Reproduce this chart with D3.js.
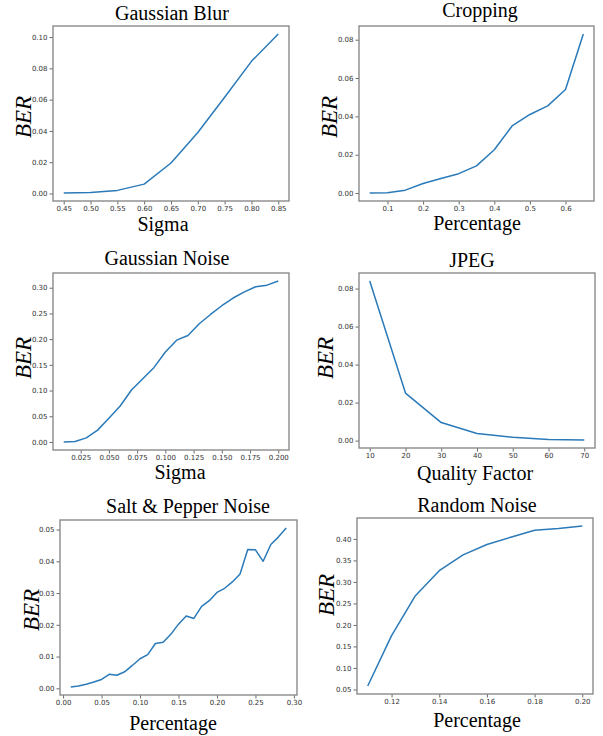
<!DOCTYPE html>
<html>
<head>
<meta charset="utf-8">
<script src="https://cdn.jsdelivr.net/npm/d3@7"></script>
<style>
  body { margin: 0; background: #fff; }
  .tick text { font-family: "DejaVu Sans", sans-serif; font-size: 7px; fill: #333; }
  .serif { font-family: "Liberation Serif", "Times New Roman", serif; fill: #000; }
</style>
</head>
<body>
<svg id="chart" width="603" height="736"></svg>
<script>
// data
const blurSigma = [0.45, 0.50, 0.55, 0.60, 0.65, 0.70, 0.75, 0.80, 0.85];
const blurBER   = [0.0003, 0.0007, 0.002, 0.006, 0.0195, 0.039, 0.0615, 0.0845, 0.102];
const blurXTicks = [0.45, 0.50, 0.55, 0.60, 0.65, 0.70, 0.75, 0.80, 0.85];
const blurYTicks = [0.00, 0.02, 0.04, 0.06, 0.08, 0.10];

const cropPct = [0.05, 0.10, 0.15, 0.20, 0.25, 0.30, 0.35, 0.40, 0.45, 0.50, 0.55, 0.60, 0.65];
const cropBER = [0.0, 0.0002, 0.0015, 0.005, 0.0076, 0.0101, 0.0142, 0.0226, 0.035, 0.041, 0.0455, 0.054, 0.083];
const cropXTicks = [0.1, 0.2, 0.3, 0.4, 0.5, 0.6];
const cropYTicks = [0.00, 0.02, 0.04, 0.06, 0.08];

const noiseSigma = [0.01, 0.02, 0.03, 0.04, 0.05, 0.06, 0.07, 0.08, 0.09, 0.10,
                    0.11, 0.12, 0.13, 0.14, 0.15, 0.16, 0.17, 0.18, 0.19, 0.20];
const noiseBER   = [0.0, 0.001, 0.008, 0.023, 0.046, 0.07, 0.101, 0.123, 0.145, 0.175,
                    0.198, 0.207, 0.23, 0.248, 0.265, 0.28, 0.292, 0.302, 0.305, 0.313];
const noiseXTicks = [0.025, 0.050, 0.075, 0.100, 0.125, 0.150, 0.175, 0.200];
const noiseYTicks = [0.00, 0.05, 0.10, 0.15, 0.20, 0.25, 0.30];

const jpegQF  = [10, 20, 30, 40, 50, 60, 70];
const jpegBER = [0.084, 0.025, 0.0095, 0.0037, 0.0018, 0.0006, 0.0003];
const jpegXTicks = [10, 20, 30, 40, 50, 60, 70];
const jpegYTicks = [0.00, 0.02, 0.04, 0.06, 0.08];

const spPct = [0.01, 0.02, 0.03, 0.04, 0.05, 0.06, 0.07, 0.08, 0.09, 0.10,
               0.11, 0.12, 0.13, 0.14, 0.15, 0.16, 0.17, 0.18, 0.19, 0.20,
               0.21, 0.22, 0.23, 0.24, 0.25, 0.26, 0.27, 0.28, 0.29];
const spBER = [0.0004, 0.0007, 0.0013, 0.002, 0.0028, 0.0044, 0.0041, 0.0052, 0.0072, 0.0093,
               0.0106, 0.0141, 0.0145, 0.017, 0.0202, 0.0228, 0.022, 0.0258, 0.0276, 0.0302,
               0.0315, 0.0335, 0.036, 0.0437, 0.0436, 0.040, 0.0453, 0.0477, 0.0505];
const spXTicks = [0.00, 0.05, 0.10, 0.15, 0.20, 0.25, 0.30];
const spYTicks = [0.00, 0.01, 0.02, 0.03, 0.04, 0.05];

const randPct = [0.11, 0.12, 0.13, 0.14, 0.15, 0.16, 0.17, 0.18, 0.19, 0.20];
const randBER = [0.058, 0.175, 0.268, 0.326, 0.363, 0.387, 0.404, 0.420, 0.424, 0.430];
const randXTicks = [0.12, 0.14, 0.16, 0.18, 0.20];
const randYTicks = [0.05, 0.10, 0.15, 0.20, 0.25, 0.30, 0.35, 0.40];

// layout for each panel (frame box + label anchors)
const panels = [
  {title: "Gaussian Blur", xlabel: "Sigma", xs: blurSigma, ys: blurBER, xt: blurXTicks, yt: blurYTicks, xf: ".2f", yf: ".2f",
   box: [53, 26, 289, 201], tx: 172, ty: 20, lx: 163, ly: 231, bx: 31, by: 117},
  {title: "Cropping", xlabel: "Percentage", xs: cropPct, ys: cropBER, xt: cropXTicks, yt: cropYTicks, xf: ".1f", yf: ".2f",
   box: [359, 26, 594, 201], tx: 480, ty: 17, lx: 477, ly: 230, bx: 337, by: 117},
  {title: "Gaussian Noise", xlabel: "Sigma", xs: noiseSigma, ys: noiseBER, xt: noiseXTicks, yt: noiseYTicks, xf: ".3f", yf: ".2f",
   box: [53, 273, 289, 450], tx: 167, ty: 265, lx: 180, ly: 479, bx: 31, by: 358},
  {title: "JPEG", xlabel: "Quality Factor", xs: jpegQF, ys: jpegBER, xt: jpegXTicks, yt: jpegYTicks, xf: "d", yf: ".2f",
   box: [359, 273, 595, 448], tx: 472, ty: 267, lx: 475, ly: 480, bx: 333, by: 358},
  {title: "Salt & Pepper Noise", xlabel: "Percentage", xs: spPct, ys: spBER, xt: spXTicks, yt: spYTicks, xf: ".2f", yf: ".2f",
   box: [60, 520, 297, 695], tx: 188, ty: 513, lx: 173, ly: 730, bx: 39, by: 610},
  {title: "Random Noise", xlabel: "Percentage", xs: randPct, ys: randBER, xt: randXTicks, yt: randYTicks, xf: ".2f", yf: ".2f",
   box: [357, 518, 593, 694], tx: 477, ty: 512, lx: 477, ly: 727, bx: 334, by: 595}
];

const svg = d3.select("#chart");

function padded(vals)
{
    const lo = d3.min(vals), hi = d3.max(vals);
    const m = (hi - lo) * 0.05;
    return [lo - m, hi + m];
}

for (let i = 0; i < panels.length; i++)
{
    const p = panels[i];
    const [x0, y0, x1, y1] = p.box;

    const x = d3.scaleLinear().domain(padded(p.xs)).range([x0, x1]);
    const y = d3.scaleLinear().domain(padded(p.ys)).range([y1, y0]);

    const g = svg.append("g");

    // axes
    const xa = g.append("g")
        .attr("transform", "translate(0," + y1 + ")")
        .call(d3.axisBottom(x).tickValues(p.xt).tickFormat(d3.format(p.xf)).tickSize(3.5).tickPadding(2));
    const ya = g.append("g")
        .attr("transform", "translate(" + x0 + ",0)")
        .call(d3.axisLeft(y).tickValues(p.yt).tickFormat(d3.format(p.yf)).tickSize(3.5).tickPadding(2));
    [xa, ya].forEach(a => {
        a.select(".domain").remove();
        a.selectAll(".tick line").attr("stroke", "#444").attr("stroke-width", 0.8);
    });

    // series line
    const pts = p.xs.map((v, k) => [v, p.ys[k]]);
    g.append("path")
        .datum(pts)
        .attr("fill", "none")
        .attr("stroke", "#2a7ab9")
        .attr("stroke-width", 1.5)
        .attr("stroke-linejoin", "round")
        .attr("d", d3.line().x(d => x(d[0])).y(d => y(d[1])));

    // frame
    g.append("rect")
        .attr("x", x0).attr("y", y0)
        .attr("width", x1 - x0).attr("height", y1 - y0)
        .attr("fill", "none")
        .attr("stroke", "#8a8a8a")
        .attr("stroke-width", 1.4);

    // texts
    g.append("text").attr("class", "serif")
        .attr("x", p.tx).attr("y", p.ty)
        .attr("text-anchor", "middle")
        .style("font-size", "20px")
        .text(p.title);
    g.append("text").attr("class", "serif")
        .attr("x", p.lx).attr("y", p.ly)
        .attr("text-anchor", "middle")
        .style("font-size", "20px")
        .text(p.xlabel);
    g.append("text").attr("class", "serif")
        .attr("transform", "translate(" + p.bx + "," + p.by + ") rotate(-90)")
        .attr("text-anchor", "middle")
        .style("font-size", "23px")
        .style("font-style", "italic")
        .text("BER");
}
</script>
</body>
</html>
